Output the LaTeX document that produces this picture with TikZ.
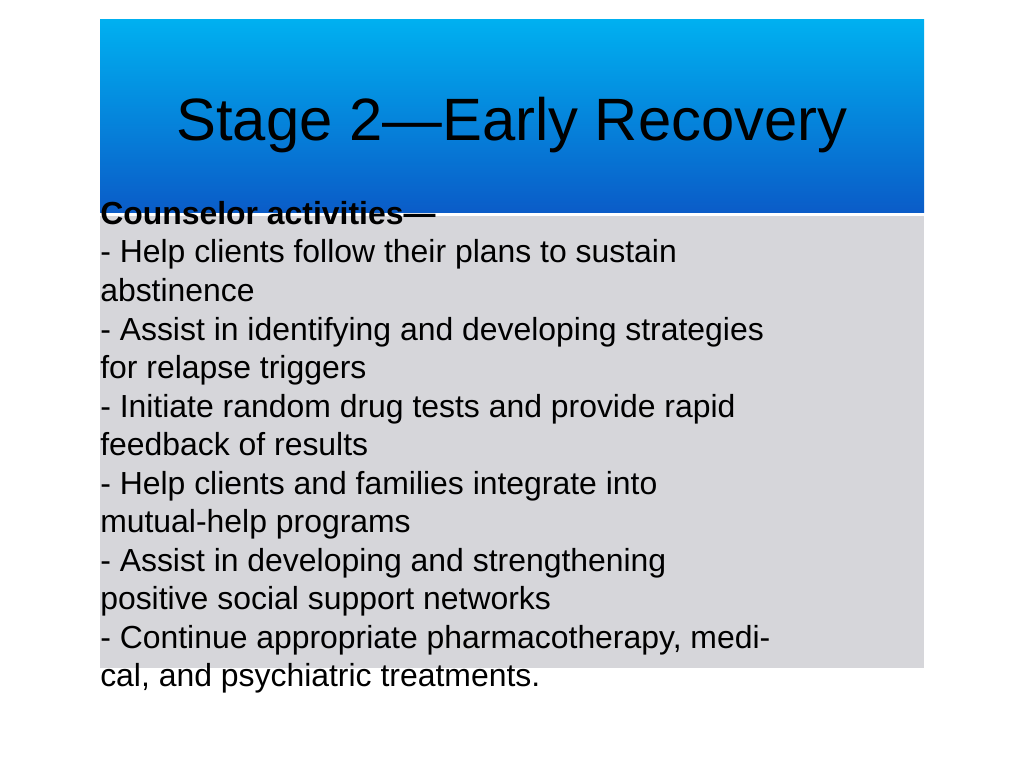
\documentclass[tikz,border=0pt]{standalone}
\usepackage{fontspec}
\setmainfont{Liberation Sans}
\usetikzlibrary{positioning}
\definecolor{bandtop}{RGB}{0,176,240}
\definecolor{bandbottom}{RGB}{10,92,200}
\definecolor{panelgray}{RGB}{214,214,218}
\tikzset{banda/.style={draw=none,top color=bandtop,bottom color=bandbottom}}
\tikzset{panel/.style={draw=none,fill=panelgray}}
\tikzset{titulo/.style={draw=none,fill=none,font=\fontsize{42.5}{50}\selectfont}}
\tikzset{cuerpo/.style={draw=none,fill=none,align=left,inner sep=0pt,font=\fontsize{22.7}{27.4}\selectfont}}
\begin{document}
\begin{tikzpicture}[
                x = 0.025cm, y = -0.025cm
            ]
                \useasboundingbox[fill=white] (0,0) rectangle (1024,768);
                \fill[banda] (100,20) rectangle (924,212);
                \fill[panel] (100,216) rectangle (924,668);
                \node[titulo] (title) at (512,125) {Stage 2—Early Recovery};
                \node[cuerpo, anchor=north west] (activities) at (100,201) {\textbf{Counselor activities—}\\
                - Help clients follow their plans to sustain\\
                abstinence\\
                - Assist in identifying and developing strategies\\
                for relapse triggers\\
                - Initiate random drug tests and provide rapid\\
                feedback of results\\
                - Help clients and families integrate into\\
                mutual-help programs\\
                - Assist in developing and strengthening\\
                positive social support networks\\
                - Continue appropriate pharmacotherapy, medi-\\
                cal, and psychiatric treatments.};
            \end{tikzpicture}
\end{document}
